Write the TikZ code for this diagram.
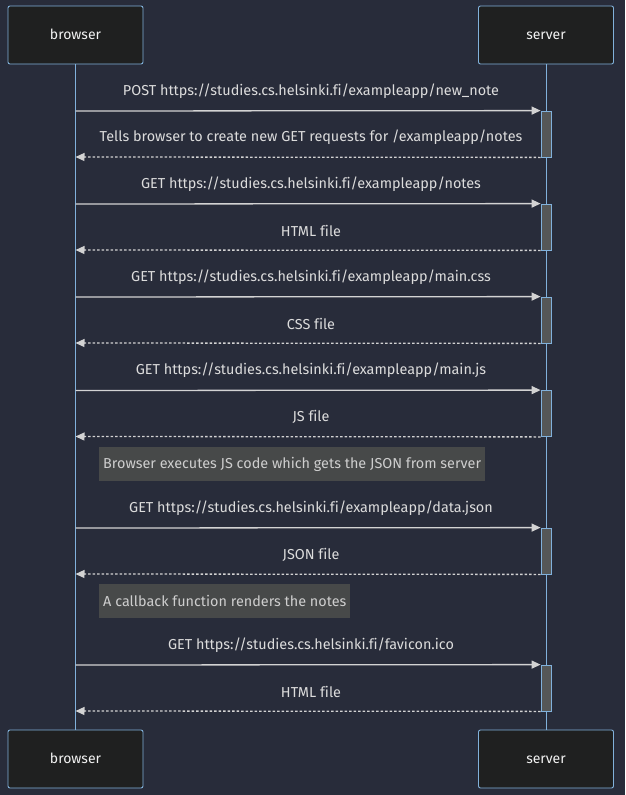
\documentclass[tikz,border=0pt]{standalone}
\usepackage{fontspec}
\setmainfont[Ligatures=NoCommon]{Fira Sans}
\usepackage{xcolor}
\usepackage{tikz}
\usetikzlibrary{positioning}
\usetikzlibrary{arrows.meta}
\usetikzlibrary{backgrounds}

\definecolor{bgdark}{RGB}{40,44,58}
\definecolor{actorfill}{RGB}{31,32,32}
\definecolor{actorline}{RGB}{129,177,219}
\definecolor{msgline}{RGB}{211,211,211}
\definecolor{msgtext}{RGB}{220,220,220}
\definecolor{notefill}{RGB}{71,73,73}
\definecolor{actfill}{RGB}{85,87,87}

\begin{document}
\begin{tikzpicture}[x=1pt,y=-1pt,
  actor/.style={draw=actorline, fill=actorfill, rounded corners=2pt, line width=0.9pt,
    minimum width=135pt, minimum height=58pt, text=white!90!gray, text height=2.1ex, text depth=.25ex,
    font=\fontsize{14}{16}\selectfont},
  life/.style={draw=actorline, line width=1pt},
  act/.style={draw=actorline, fill=actfill, line width=0.8pt, minimum width=10pt, inner sep=0pt},
  req/.style={draw=msgline, line width=1.3pt, -{Triangle[length=9pt,width=8pt]}},
  resp/.style={draw=msgline, line width=1.3pt, dash pattern=on 2.5pt off 2pt, -{Triangle[length=9pt,width=8pt]}},
  label/.style={text=msgtext, font=\fontsize{14.4}{16}\selectfont},
  note/.style={fill=notefill, text=msgtext!85!gray, font=\fontsize{14.4}{16}\selectfont,
    minimum height=34pt, inner xsep=4pt, anchor=west}]

\fill[bgdark] (0,0) rectangle (625,795);
\useasboundingbox (0,0) rectangle (625,795);

\node[actor] (b1) at (75.5,35) {browser};
\node[actor] (s1) at (546,35) {server};
\node[actor] (b2) at (75.5,759) {browser};
\node[actor] (s2) at (546,759) {server};

\draw[life] (b1) -- (b2);
\draw[life] (s1) -- (s2);

% activations on the server side
\node[act, minimum height=46pt] (a1) at (546,134) {};
\node[act, minimum height=46pt] (a2) at (546,227) {};
\node[act, minimum height=46pt] (a3) at (546,320) {};
\node[act, minimum height=46pt] (a4) at (546,413.5) {};
\node[act, minimum height=46pt] (a5) at (546,551) {};
\node[act, minimum height=46pt] (a6) at (546,688) {};

\coordinate (p1) at (75.5,111);
\coordinate (r1) at (75.5,157);
\coordinate (p2) at (75.5,204);
\coordinate (r2) at (75.5,250);
\coordinate (p3) at (75.5,297);
\coordinate (r3) at (75.5,343);
\coordinate (p4) at (75.5,390.5);
\coordinate (r4) at (75.5,436.5);
\coordinate (p5) at (75.5,528);
\coordinate (r5) at (75.5,574);
\coordinate (p6) at (75.5,665);
\coordinate (r6) at (75.5,711);

\draw[req] (p1) -- (a1.north west);
\draw[resp] (a1.south west) -- (r1);
\draw[req] (p2) -- (a2.north west);
\draw[resp] (a2.south west) -- (r2);
\draw[req] (p3) -- (a3.north west);
\draw[resp] (a3.south west) -- (r3);
\draw[req] (p4) -- (a4.north west);
\draw[resp] (a4.south west) -- (r4);
\draw[req] (p5) -- (a5.north west);
\draw[resp] (a5.south west) -- (r5);
\draw[req] (p6) -- (a6.north west);
\draw[resp] (a6.south west) -- (r6);

\node[label] (t1) at (311,91) {POST https://studies.cs.helsinki.fi/exampleapp/new\_note};
\node[label] (t2) at (311,137) {Tells browser to create new GET requests for /exampleapp/notes};
\node[label] (t3) at (311,184) {GET https://studies.cs.helsinki.fi/exampleapp/notes};
\node[label] (t4) at (311,231) {HTML file};
\node[label] (t5) at (311,277) {GET https://studies.cs.helsinki.fi/exampleapp/main.css};
\node[label] (t6) at (311,324) {CSS file};
\node[label] (t7) at (311,370) {GET https://studies.cs.helsinki.fi/exampleapp/main.js};
\node[label] (t8) at (311,417) {JS file};
\node[label] (t9) at (311,508) {GET https://studies.cs.helsinki.fi/exampleapp/data.json};
\node[label] (t10) at (311,555) {JSON file};
\node[label] (t11) at (311,645) {GET https://studies.cs.helsinki.fi/favicon.ico};
\node[label] (t12) at (311,692) {HTML file};

\node[note] (n1) at (99,464) {Browser executes JS code which gets the JSON from server};
\node[note] (n2) at (99,601) {A callback function renders the notes};
\end{tikzpicture}
\end{document}
